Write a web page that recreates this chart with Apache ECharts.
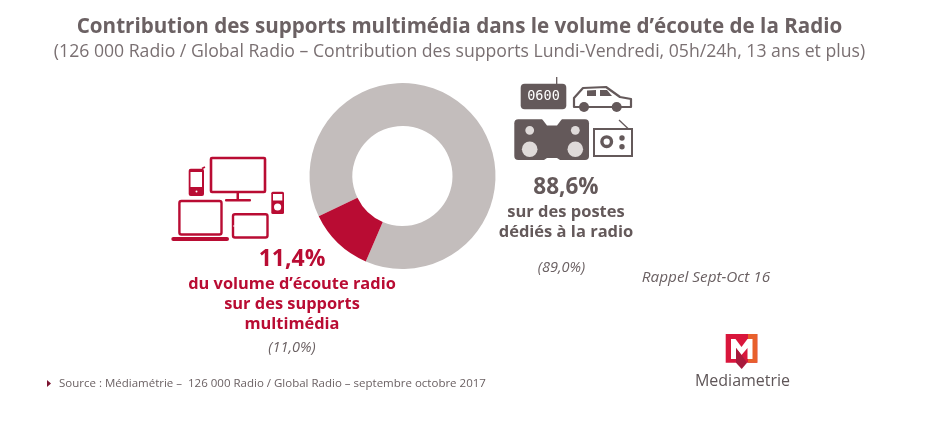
<!DOCTYPE html>
<html><head><meta charset="utf-8">
<style>html,body{margin:0;padding:0;background:#fff}#c{width:930px;height:434px}</style>
<script src="https://cdn.jsdelivr.net/npm/echarts@6/dist/echarts.min.js"></script>
</head><body><div id="c"></div>
<script>
const categories = ['Postes dédiés à la radio', 'Supports multimédia'];
const shares = [88.6, 11.4];
const titleText = 'Contribution des supports multimédia dans le volume d’écoute de la Radio';
const subtitleText = '(126 000 Radio / Global Radio – Contribution des supports Lundi-Vendredi, 05h/24h, 13 ans et plus)';
const GREY = '#c3bdbc', RED = '#b90c33', DARK = '#64595a', F = '"Open Sans"';

const chart = echarts.init(document.getElementById('c'), null, {renderer: 'canvas'});
const txt = (text, x, y, size, fill, o = {}) => ({type: 'text', x, y, silent: true, style: Object.assign({
  text, fill, fontFamily: o.font || F, fontSize: size, fontWeight: o.bold ? 'bold' : 'normal', fontStyle: o.italic ? 'italic' : 'normal',
  align: o.align || 'center', verticalAlign: 'middle'})});
const rect = (x, y, x2, y2, fill, r = 0, stroke, lw) => ({type: 'rect', shape: {x, y, width: x2 - x, height: y2 - y, r}, style: {fill, stroke, lineWidth: lw}});
const circ = (cx, cy, r, fill, stroke, lw) => ({type: 'circle', shape: {cx, cy, r}, style: {fill, stroke, lineWidth: lw}});
const poly = (points, fill, stroke, lw) => ({type: 'polygon', shape: {points}, style: {fill, stroke, lineWidth: lw, lineJoin: 'round'}});
const line = (x1, y1, x2, y2, stroke, lw) => ({type: 'line', shape: {x1, y1, x2, y2}, style: {stroke, lineWidth: lw}});

const deviceIcons = [
  rect(211, 158, 265, 192, '#fff', 1, RED, 2.6), rect(236.5, 193, 239, 199, RED), rect(225, 199, 251, 201.4, RED, 1),
  rect(188.7, 168.7, 204, 196, RED, 2), rect(190.5, 172, 202, 187, '#fff'), line(202, 168.5, 205, 167, RED, 1.6), circ(196.5, 191.5, 1, '#fff'),
  rect(271.3, 191.7, 284, 214, RED, 1.5), rect(273, 194, 282.3, 200.5, '#fff'), circ(277.6, 207, 3.6, '#fff'),
  rect(179.4, 201, 221.5, 234.5, '#fff', 2, RED, 2.4), rect(171.3, 237, 229, 241, RED, 2),
  rect(233, 214.3, 267.5, 237.5, '#fff', 2, RED, 2.4), circ(234, 226, 0.8, '#fff')
];
const radioIcons = [
  rect(520.7, 83.7, 566.3, 109.3, DARK, 4), line(556.7, 77, 556.7, 84, DARK, 1.3),
  txt('0600', 543.5, 96.5, 13.5, '#fff', {font: 'DejaVu Sans Mono'}),
  poly([[574, 107], [574, 98], [583, 88], [606, 87], [620, 97], [631, 99], [631, 107]], '#fff', DARK, 2.2),
  poly([[587, 90.5], [596, 90], [596, 96], [587, 96]], DARK), poly([[600, 90], [607, 90], [612, 96], [600, 96]], DARK),
  circ(584, 107, 5, DARK), circ(616.7, 107, 5, DARK),
  rect(514.3, 119.3, 589, 160, DARK, 4),
  poly([[542, 119], [547, 125.5], [557, 125.5], [562, 119]], '#fff'),
  poly([[544, 160], [547, 158], [557, 158], [560, 160]], '#fff'),
  circ(529.7, 130.3, 4.4, '#dfdad9'), circ(575.3, 130.3, 4.4, '#dfdad9'),
  circ(529.7, 149.3, 7.8, '#dfdad9'), circ(575.3, 149.3, 7.8, '#dfdad9'),
  line(619, 120, 628, 128.5, DARK, 1.3),
  rect(594, 129, 632, 156, '#fff', 0, DARK, 2),
  circ(606.7, 141.7, 4.8, '#fff', DARK, 3.4), circ(622, 138, 2.7, DARK), circ(622, 146.7, 2.7, DARK)
];
const logo = [
  poly([[725.7, 334], [757.3, 334], [757.3, 362.7], [725.7, 362.7]], '#d9163c'),
  poly([[748, 334], [757.3, 334], [757.3, 362.7], [748, 362.7]], '#e8602c'),
  poly([[731, 359], [731, 339], [735.5, 339], [741.5, 347], [747.5, 339], [752.5, 339], [752.5, 359], [747.5, 359], [747.5, 348], [741.5, 355], [736, 348], [736, 359]], '#fff'),
  poly([[736, 348], [741.5, 355], [747, 362.7], [741.7, 369], [736, 362.7]], '#a81a3c'),
  txt('Mediametrie', 742.5, 381.5, 16, '#5f5658', {})
];

chart.setOption({
  animation: false,
  backgroundColor: '#fff',
  title: {
    text: titleText, subtext: subtitleText, left: 454.5, top: 12, textAlign: 'center', itemGap: 5,
    textStyle: {fontFamily: F, fontSize: 20.6, fontWeight: 'bold', color: '#6b6163'},
    subtextStyle: {fontFamily: F, fontSize: 17.65, color: '#7a7072'}
  },
  series: [{
    type: 'pie', center: [402.5, 176], radius: [50, 93], startAngle: 205.7, clockwise: true,
    label: {show: false}, labelLine: {show: false}, silent: true,
    data: categories.map((name, i) => ({name, value: shares[i], itemStyle: {color: [GREY, RED][i]}}))
  }],
  graphic: [
    ...deviceIcons, ...radioIcons, ...logo,
    txt('11,4%', 292, 259, 23, RED, {bold: true}),
    txt('du volume d’écoute radio', 292, 284, 16.4, RED, {bold: true}),
    txt('sur des supports', 292, 304, 16.4, RED, {bold: true}),
    txt('multimédia', 292, 324, 16.4, RED, {bold: true}),
    txt('(11,0%)', 292, 348, 14.5, '#6b6163', {italic: true}),
    txt('88,6%', 566, 188, 22.5, DARK, {bold: true}),
    txt('sur des postes', 566, 212, 16.5, DARK, {bold: true}),
    txt('dédiés à la radio', 566, 232, 16.5, DARK, {bold: true}),
    txt('(89,0%)', 561.5, 268, 14.5, '#6b6163', {italic: true}),
    txt('Rappel Sept-Oct 16', 706, 278, 15.3, '#6b6163', {italic: true}),
    poly([[47, 380], [51, 383.5], [47, 387]], '#7c1430'),
    txt('Source : Médiamétrie –  126 000 Radio / Global Radio – septembre octobre 2017', 59, 383.5, 11.5, '#6b6163', {align: 'left'})
  ]
});
</script></body></html>
